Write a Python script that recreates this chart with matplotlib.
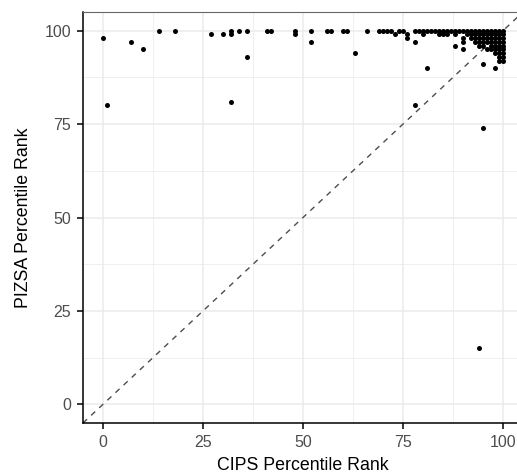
import numpy as np
import matplotlib
matplotlib.use('Agg')
import matplotlib.pyplot as plt
from matplotlib.ticker import MultipleLocator

plt.rcParams['font.family'] = ['Liberation Sans', 'DejaVu Sans']

# ---- 数据：CIPS 与 PIZSA 百分位 ----
# 稀疏点
cips_sparse = [0, 1, 7, 10, 27, 30, 32, 32, 36, 48, 52, 63, 73, 76, 76, 78, 78, 81,
               80, 84, 85, 86, 88, 88, 90, 90, 90, 92, 94, 95, 98, 95, 94, 93]
pizsa_sparse = [98, 80, 97, 95, 99, 99, 99, 81, 93, 99, 97, 94, 99, 99, 98, 97, 80, 90,
                99, 99, 99, 99, 99, 96, 98, 97, 95, 98, 96, 91, 90, 74, 15, 97]

# 顶部一行 (PIZSA = 100)
cips_top = [14, 18, 32, 34, 36, 41, 42, 48, 52, 56, 57, 60, 61, 66, 69, 70, 71, 72,
            74, 75, 78, 79, 80, 81, 82, 83, 84, 85, 86, 87, 88, 89, 90, 91, 92, 93,
            94, 95, 96, 97, 98, 99, 100]
pizsa_top = [100] * len(cips_top)

# 右上角密集区
cips_dense = [91, 92, 93, 93, 94, 94, 94,
              95, 95, 95, 95,
              96, 96, 96, 96,
              97, 97, 97, 97, 97,
              98, 98, 98, 98, 98, 98,
              99, 99, 99, 99, 99, 99, 99, 99,
              100, 100, 100, 100, 100, 100, 100, 100]
pizsa_dense = [99, 99, 99, 98, 99, 98, 97,
               99, 98, 97, 96,
               99, 98, 97, 95,
               99, 98, 97, 96, 95,
               99, 98, 97, 96, 95, 94,
               99, 98, 97, 96, 95, 94, 93, 92,
               99, 98, 97, 96, 95, 94, 93, 92]

cips = np.array(cips_sparse + cips_top + cips_dense)
pizsa = np.array(pizsa_sparse + pizsa_top + pizsa_dense)

ticks = [0, 25, 50, 75, 100]
lims = (-5, 105)

# ---- 画图 ----
fig = plt.figure(figsize=(5.17, 4.75), dpi=100)
# 画布右侧被裁掉一部分，面板延伸到图外
ax = fig.add_axes([83 / 517, 52 / 475, 440 / 517, 411 / 475])

ax.set_xlim(*lims)
ax.set_ylim(*lims)
ax.set_xticks(ticks)
ax.set_yticks(ticks)
ax.xaxis.set_minor_locator(MultipleLocator(12.5))
ax.yaxis.set_minor_locator(MultipleLocator(12.5))

ax.grid(which='major', color='#EBEBEB', lw=1.1, zorder=0)
ax.grid(which='minor', color='#EBEBEB', lw=0.55, zorder=0)
ax.set_axisbelow(True)

ax.plot(lims, lims, ls=(0, (4, 4)), color='#4D4D4D', lw=1.0, zorder=1)
ax.scatter(cips, pizsa, s=13, color='black', linewidths=0, zorder=2)

for side in ['top', 'right']:
    ax.spines[side].set_color('#666666')
    ax.spines[side].set_linewidth(0.8)
for side in ['left', 'bottom']:
    ax.spines[side].set_color('black')
    ax.spines[side].set_linewidth(1.1)

ax.tick_params(which='major', length=4, width=1.1, color='black', pad=4.5,
               labelsize=11.5, labelcolor='#4D4D4D')
ax.tick_params(which='minor', length=0)

ax.set_xlabel('CIPS Percentile Rank', fontsize=12.8, color='black', labelpad=5)
ax.set_ylabel('PIZSA Percentile Rank', fontsize=12.8, color='black', labelpad=9)

fig.savefig('out.png', dpi=100)
